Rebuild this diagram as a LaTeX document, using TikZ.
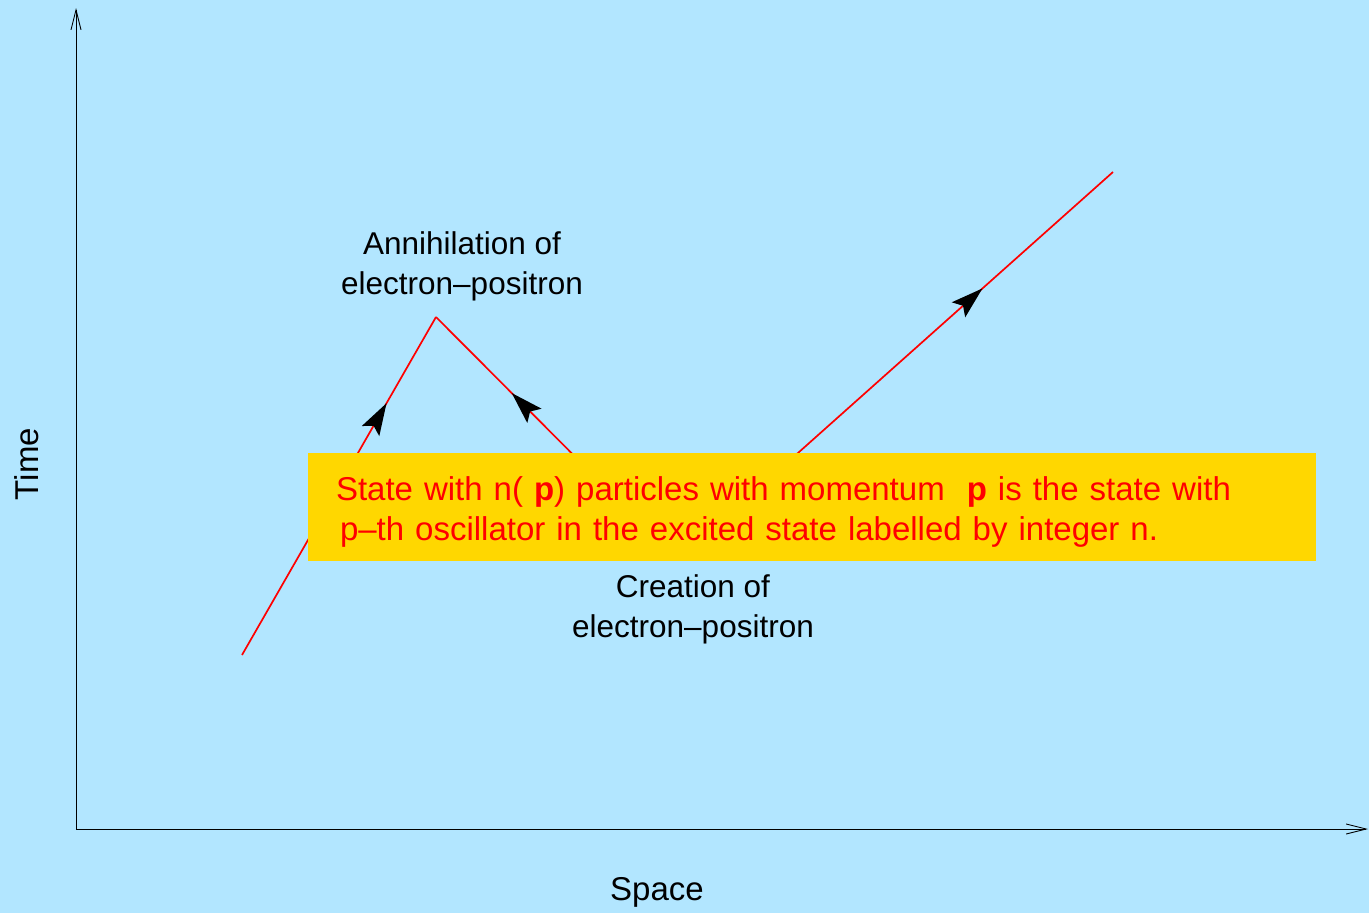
\documentclass[tikz,border=0pt]{standalone}
\usepackage{fontspec}
\setmainfont{Liberation Sans}
\usetikzlibrary{arrows.meta}
\usetikzlibrary{positioning}
\usetikzlibrary{decorations.markings}
\usetikzlibrary{calc}
\definecolor{skyblue}{RGB}{178,230,255}
\definecolor{boxgold}{RGB}{255,215,0}
\tikzstyle{axis}=[black,line width=0.9pt,-{Straight Barb[length=20pt,width=10pt]}]
\tikzstyle{world}=[red,line width=1.7pt]
\tikzstyle{lbl}=[font=\fontsize{31.5}{40}\selectfont,align=center,inner sep=0pt]
\tikzstyle{axlbl}=[font=\fontsize{33}{40}\selectfont,inner sep=0pt]
\tikzstyle{msg}=[fill=boxgold,inner sep=0pt,minimum width=1008pt,minimum height=108pt]
\tikzstyle{msgtext}=[text=red,font=\fontsize{33}{40}\selectfont,align=left,text width=952pt,inner sep=0pt]
\tikzset{flow/.style={postaction={decorate},decoration={markings,
  mark=at position #1 with {\arrow[black]{Stealth[length=32pt,width=20pt,inset=6pt]}}}}}

\begin{document}
\begin{tikzpicture}[x=1pt,y=-1pt]
\fill[skyblue] (0,0) rectangle (1369,913);
\useasboundingbox (0,0) rectangle (1369,913);

% axes
\coordinate (O) at (76,829);
\coordinate (tmax) at (76,8);
\coordinate (xmax) at (1368,829);
\draw[axis] (O) -- (tmax);
\draw[axis] (O) -- (xmax);
\node[axlbl,rotate=90] (time) at (27,464) {Time};
\node[axlbl,anchor=base] (space) at (657,900) {Space};

% world line
\coordinate (start) at (242,655);
\coordinate (peak) at (436,317);
\coordinate (create) at (678,560);
\coordinate (finish) at (1113,172);
\draw[world,flow=0.745] (start) -- (peak);
\draw[world,flow=0.687] (create) -- (peak);
\draw[world,flow=0.70] (create) -- (finish);

\node[lbl] (annih) at (462,266) {Annihilation of\\electron–positron};
\node[lbl] (creat) at (693,609) {Creation of\\electron–positron};

% message box
\node[msg] (msg) at (812,507) {};
\node[msgtext] (msgtxt) at ($(msg.center)+(0,5)$) {State with n( \textbf{p}) particles with momentum \ \textbf{p} is the state with\\\hspace*{4pt}p–th oscillator in the excited state labelled by integer n.};
\end{tikzpicture}
\end{document}
